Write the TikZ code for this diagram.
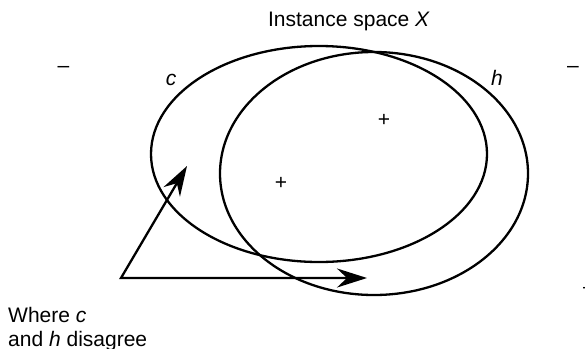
\documentclass[tikz,border=0pt]{standalone}
\usepackage{fontspec}
\setmainfont{Liberation Sans}
\usetikzlibrary{arrows.meta}
\begin{document}
\begin{tikzpicture}[x=1pt,y=-1pt,
  txt/.style={inner sep=0pt,font=\fontsize{21}{24}\selectfont},
  region/.style={line width=2.3pt},
  pointer/.style={line width=2.3pt,line join=miter,
    {Stealth[length=30pt,width=19pt,inset=10pt]}-{Stealth[length=30pt,width=19pt,inset=10pt]}}]
\useasboundingbox (0,0) rectangle (585,348);
% concepts
\draw[region] (319,154) ellipse [x radius=168pt, y radius=108pt];
\draw[region] (374,173.5) ellipse [x radius=154pt, y radius=121.5pt];
% labels
\node[txt,anchor=base] (title) at (349,26.7) {Instance space \textit{X}};
\node[txt,anchor=base] (lc) at (171,85) {\textit{c}};
\node[txt,anchor=base] (lh) at (497,85) {\textit{h}};
\node[txt,anchor=base] (p1) at (384,126.4) {+};
\node[txt,anchor=base] (p2) at (281,189.4) {+};
\node[txt,anchor=base] (m1) at (63.5,72.8) {–};
\node[txt,anchor=base] (m2) at (573,72.8) {–};
\node[txt,anchor=base] (m3) at (589,293.5) {–};
\node[txt,anchor=base west,align=left] (where) at (8,346) {Where \textit{c}\\and \textit{h} disagree};
% pointers
\coordinate (v) at (121,278);
\coordinate (t1) at (187,166);
\coordinate (t2) at (367,278);
\draw[pointer] (t1) -- (v) -- (t2);
\end{tikzpicture}
\end{document}
